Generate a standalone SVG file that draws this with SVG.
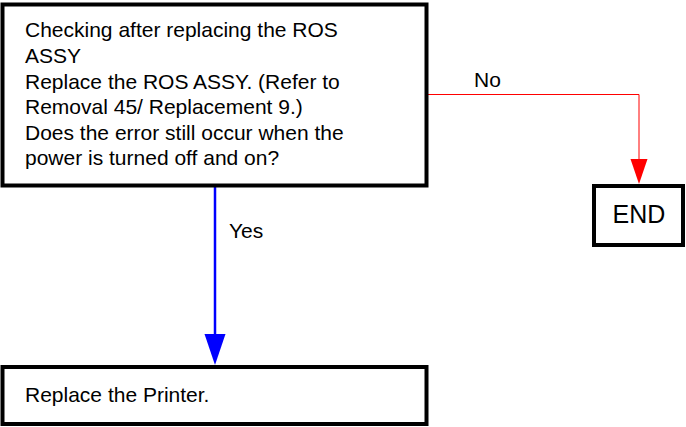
<svg xmlns="http://www.w3.org/2000/svg" width="686" height="427" viewBox="0 0 686 427">
<style>
.box{fill:#fff;stroke:#000;stroke-width:4}
.t{font-family:"Liberation Sans",Arial,sans-serif;font-size:21px;fill:#000}
</style>
<rect width="686" height="427" fill="#fff"/>
<g id="connectors">
<polyline points="428,94.5 639,94.5 639,160" fill="none" stroke="#f00" stroke-width="1"/>
<path d="M630.5,159 L647.5,159 L639,184 Z" fill="#f00"/>
<line x1="215" y1="187" x2="215" y2="336" stroke="#00f" stroke-width="2.5"/>
<path d="M204.5,334 L225.5,334 L215,365 Z" fill="#00f"/>
<text class="t" x="474" y="87">No</text>
<text class="t" x="229" y="238">Yes</text>
</g>
<g id="check">
<rect class="box" x="2.5" y="4.5" width="424" height="181"/>
<text class="t" x="25" y="37">Checking after replacing the ROS</text>
<text class="t" x="25" y="63">ASSY</text>
<text class="t" x="25" y="89">Replace the ROS ASSY. (Refer to</text>
<text class="t" x="25" y="114">Removal 45/ Replacement 9.)</text>
<text class="t" x="25" y="140">Does the error still occur when the</text>
<text class="t" x="25" y="165">power is turned off and on?</text>
</g>
<g id="end">
<rect class="box" x="594" y="186" width="89" height="59"/>
<text class="t" x="639" y="223" text-anchor="middle" style="font-size:25px">END</text>
</g>
<g id="printer">
<rect class="box" x="2.5" y="367" width="424" height="57"/>
<text class="t" x="25" y="402">Replace the Printer.</text>
</g>
</svg>
